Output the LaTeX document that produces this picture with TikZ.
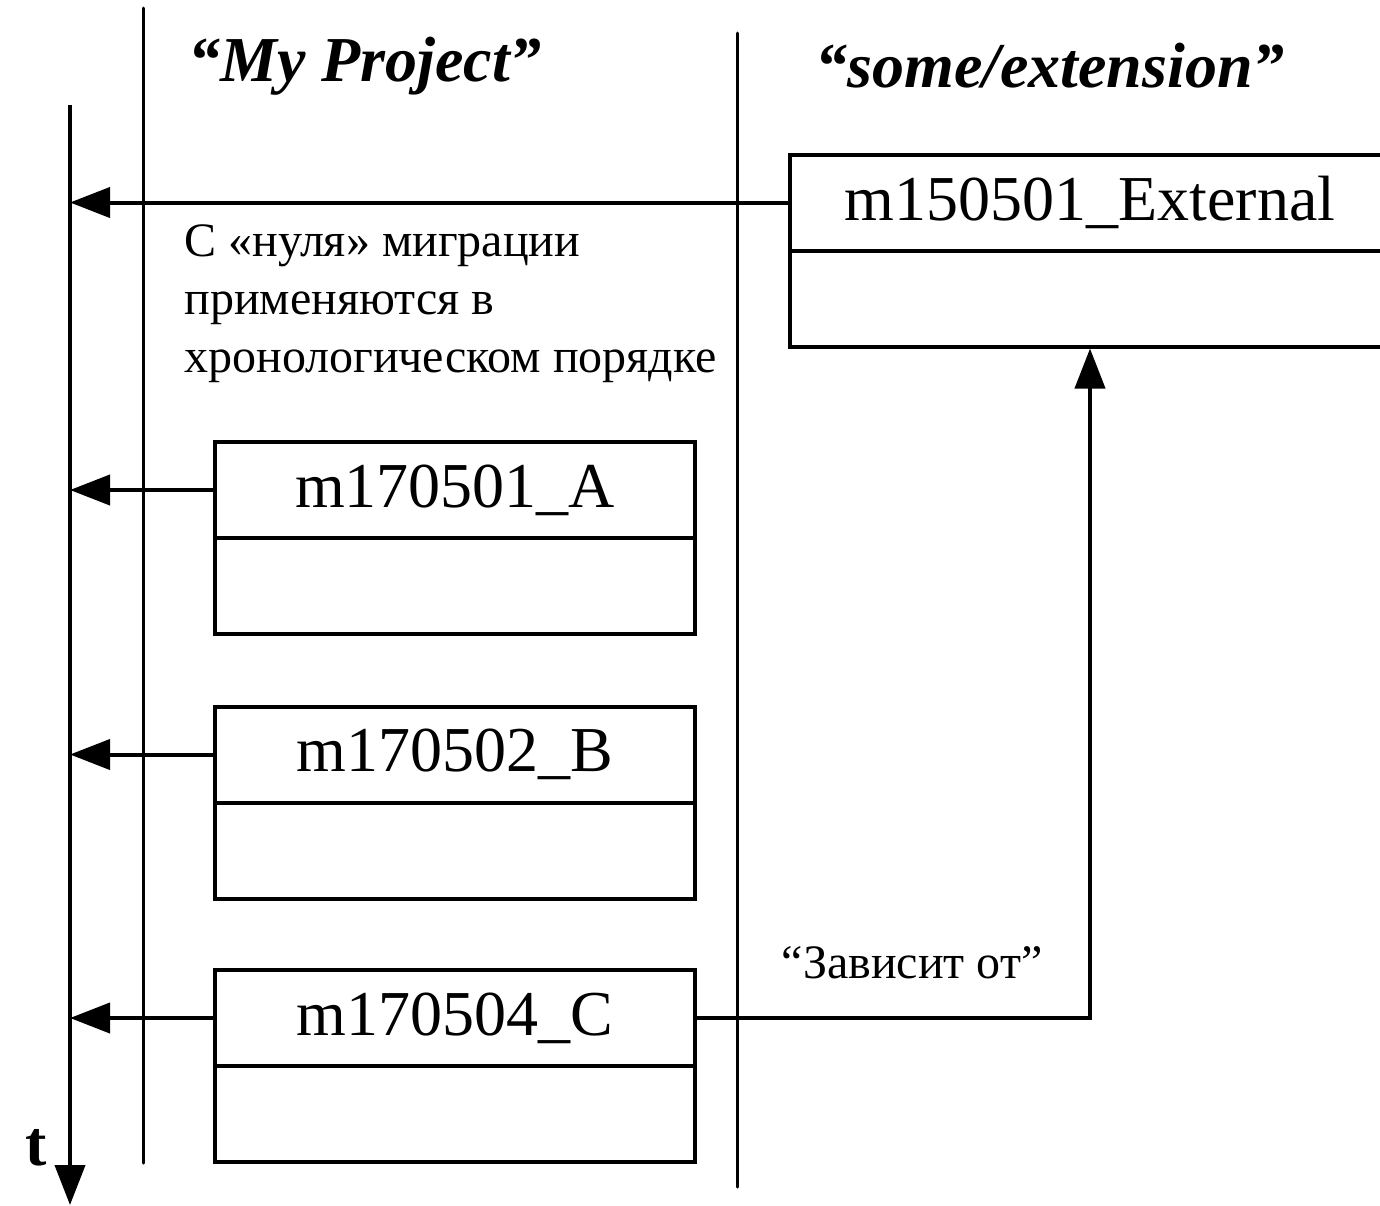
\documentclass[tikz,border=0pt]{standalone}
\usepackage{fontspec}
\setmainfont{Liberation Serif}
\usetikzlibrary{positioning,arrows.meta}

\begin{document}
\begin{tikzpicture}[x=0.5pt,y=-0.5pt,
  migr/.style={rectangle,draw,line width=2pt,minimum width=240pt,minimum height=48pt,inner sep=0pt,font=\fontsize{32}{38}\selectfont},
  extmigr/.style={migr,minimum width=300pt},
  call/.style={line width=2pt,-{Triangle[length=20pt,width=15pt]}},
  lane/.style={line width=1.5pt,line cap=round},
  title/.style={font=\fontsize{32}{36}\selectfont\bfseries\itshape},
  note/.style={font=\fontsize{24}{29}\selectfont,align=left,inner sep=0pt}]

\useasboundingbox (0,0) rectangle (1380,1205);
\clip (0,0) rectangle (1380,1205);

% swimlanes and time axis
\coordinate (lane1top) at (143,8);
\coordinate (lane1bot) at (143,1163);
\coordinate (lane2top) at (737,33);
\coordinate (lane2bot) at (737,1187);
\coordinate (ttop) at (70,105);
\coordinate (tbot) at (70,1205);
\draw[lane] (lane1top) -- (lane1bot);
\draw[lane] (lane2top) -- (lane2bot);
\draw[call] (ttop) -- (tbot);
\node[font=\fontsize{32}{36}\selectfont\bfseries] (tlabel) at (36,1148) {t};

\node[title] (proj) at (365,66) {“My Project”};
\node[title] (extn) at (1050,66) {“some/extension”};

% migrations
\node[extmigr] (ext) at (1090,202.5) {m150501\_External};
\node[extmigr,below=-2pt of ext] (extbody) {};
\node[migr] (a) at (455,490) {m170501\_A};
\node[migr,below=-2pt of a] (abody) {};
\node[migr] (b) at (455,754.5) {m170502\_B};
\node[migr,below=-2pt of b] (bbody) {};
\node[migr] (c) at (455,1018) {m170504\_C};
\node[migr,below=-2pt of c] (cbody) {};

\node[note,anchor=north west] (order) at (184,224) {С «нуля» миграции\\применяются в\\хронологическом порядке};
\node[note] (dep) at (912,963) {``Зависит от''};

\draw[call] (ext.west) -- (ext.west -| ttop);
\draw[call] (a.west) -- (a.west -| ttop);
\draw[call] (b.west) -- (b.west -| ttop);
\draw[call] (c.west) -- (c.west -| ttop);
\draw[call] (c.east) -| (extbody.south);
\end{tikzpicture}
\end{document}
